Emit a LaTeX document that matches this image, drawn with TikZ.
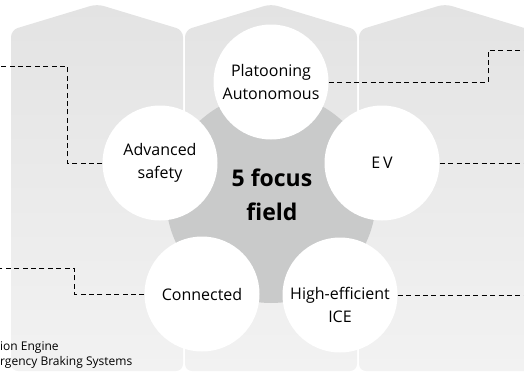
\documentclass[tikz,border=0pt]{standalone}
\usepackage{fontspec}
\setmainfont{Open Sans}
\definecolor{coltop}{HTML}{E3E3E3}
\definecolor{colbot}{HTML}{F2F2F2}
\definecolor{hubgray}{HTML}{C9CACA}

\begin{document}
\begin{tikzpicture}[x=1pt,y=-1pt,
    field/.style={circle,fill=white,minimum size=115pt,inner sep=0pt,align=center,font=\fontsize{16}{23}\selectfont},
    lead/.style={dash pattern=on 5pt off 3.4pt,line width=0.9pt,black}]
    \useasboundingbox (0,0) rectangle (524,372);

    \begin{scope}
    \clip (0,0) rectangle (524,372);
    \foreach \cx in {97,271,445}
        \shade [top color=coltop,bottom color=colbot,rounded corners=7pt]
            (\cx,371) -- (\cx-86,371) -- (\cx-86,30) -- (\cx,4) -- (\cx+86,30) -- (\cx+86,371) -- cycle;
    \end{scope}

    \fill [hubgray] (271,198) circle (105);
    \node [font=\bfseries\fontsize{23}{34}\selectfont,align=center] (hub) at (272,195) {5 focus\\field};

    \node [field] (plat) at (271,82) {Platooning\\Autonomous};
    \node [field] (adv) at (160,163) {Advanced\\safety};
    \node [field] (ev) at (382,163) {E\,V};
    \node [field] (con) at (202,294) {Connected};
    \node [field] (ice) at (340,295) {};
    \node [align=center,font=\fontsize{16}{23}\selectfont] (icetxt) at (340,305) {High-efficient\\ICE};

    \coordinate (advend) at (0,66);
    \coordinate (platend) at (524,50);
    \coordinate (evend) at (524,163);
    \coordinate (conend) at (0,268);
    \coordinate (iceend) at (524,295);
    \draw [lead] (adv.west) -| (67,66) -- (advend);
    \draw [lead] (plat.east) -| (488,50) -- (platend);
    \draw [lead] (ev.east) -- (evend);
    \draw [lead] (con.west) -| (74,268) -- (conend);
    \draw [lead] (ice.east) -- (iceend);

    \node [anchor=west,inner sep=0pt,font=\fontsize{12}{14}\selectfont] (note1) at (0,348) {ion Engine};
    \node [anchor=west,inner sep=0pt,font=\fontsize{12}{14}\selectfont] (note2) at (0,362) {rgency Braking Systems};
\end{tikzpicture}
\end{document}
